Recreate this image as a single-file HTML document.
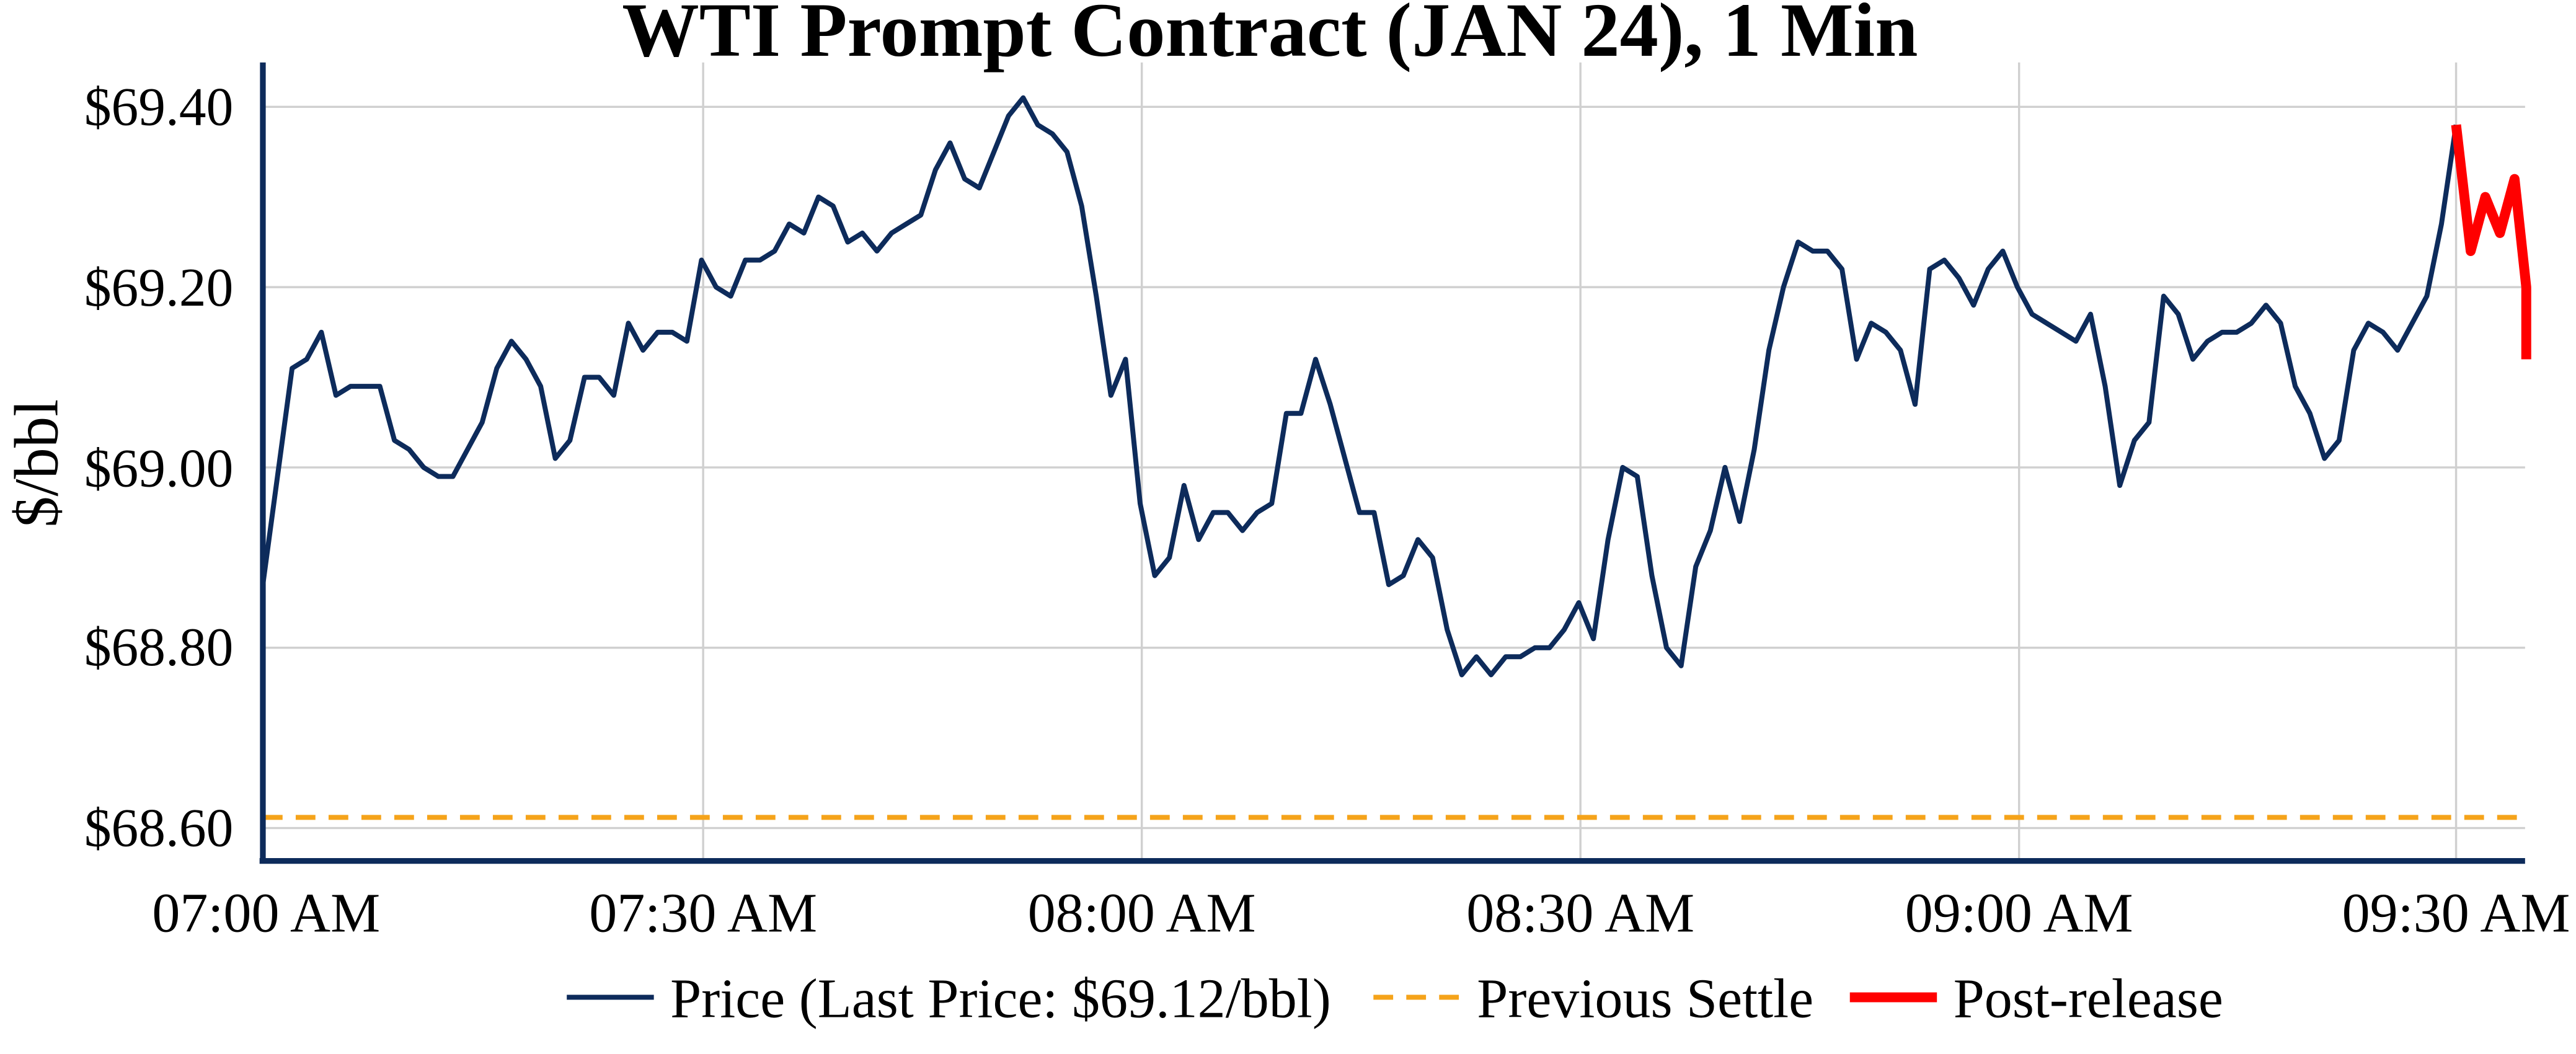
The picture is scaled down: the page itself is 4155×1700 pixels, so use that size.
<!DOCTYPE html>
<html><head><meta charset="utf-8"><style>
html,body{margin:0;padding:0;background:#fff;}
svg{display:block;}
text{font-family:"Liberation Serif",serif;fill:#000;}
</style></head><body>
<svg width="4155" height="1700" viewBox="0 0 1568 641.5" xmlns="http://www.w3.org/2000/svg">
<rect width="1568" height="641.5" fill="#fff"/>
<text x="773" y="34" text-anchor="middle" font-size="47" font-weight="bold">WTI Prompt Contract (JAN 24), 1 Min</text>
<g stroke="#d0d0d0" stroke-width="1.3">
<line x1="160" x2="1537" y1="65" y2="65"/>
<line x1="160" x2="1537" y1="174.75" y2="174.75"/>
<line x1="160" x2="1537" y1="284.5" y2="284.5"/>
<line x1="160" x2="1537" y1="394.25" y2="394.25"/>
<line x1="160" x2="1537" y1="504" y2="504"/>
<line x1="428" x2="428" y1="38" y2="524"/>
<line x1="695" x2="695" y1="38" y2="524"/>
<line x1="962" x2="962" y1="38" y2="524"/>
<line x1="1229" x2="1229" y1="38" y2="524"/>
<line x1="1495" x2="1495" y1="38" y2="524"/>
</g>
<line x1="160" x2="1537" y1="497.5" y2="497.5" stroke="#f5a31a" stroke-width="3" stroke-dasharray="12,8"/>
<g transform="translate(160,65) scale(8.9,5.4875)">
<polyline fill="none" stroke="#0d2b5b" stroke-width="8" vector-effect="non-scaling-stroke" stroke-linejoin="round" points="0,53 1,41 2,29 3,28 4,25 5,32 6,31 7,31 8,31 9,37 10,38 11,40 12,41 13,41 14,38 15,35 16,29 17,26 18,28 19,31 20,39 21,37 22,30 23,30 24,32 25,24 26,27 27,25 28,25 29,26 30,17 31,20 32,21 33,17 34,17 35,16 36,13 37,14 38,10 39,11 40,15 41,14 42,16 43,14 44,13 45,12 46,7 47,4 48,8 49,9 50,5 51,1 52,-1 53,2 54,3 55,5 56,11 57,21 58,32 59,28 60,44 61,52 62,50 63,42 64,48 65,45 66,45 67,47 68,45 69,44 70,34 71,34 72,28 73,33 74,39 75,45 76,45 77,53 78,52 79,48 80,50 81,58 82,63 83,61 84,63 85,61 86,61 87,60 88,60 89,58 90,55 91,59 92,48 93,40 94,41 95,52 96,60 97,62 98,51 99,47 100,40 101,46 102,38 103,27 104,20 105,15 106,16 107,16 108,18 109,28 110,24 111,25 112,27 113,33 114,18 115,17 116,19 117,22 118,18 119,16 120,20 121,23 122,24 123,25 124,26 125,23 126,31 127,42 128,37 129,35 130,21 131,23 132,28 133,26 134,25 135,25 136,24 137,22 138,24 139,31 140,34 141,39 142,37 143,27 144,24 145,25 146,27 147,24 148,21 149,13 150,2"/>
<polyline fill="none" stroke="#ff0000" stroke-width="16" vector-effect="non-scaling-stroke" stroke-linejoin="round" points="150,2 151,16 152,10 153,14 154,8 154.8,20 154.8,28"/>
</g>
<line x1="160" x2="160" y1="38" y2="525" stroke="#0d2b5b" stroke-width="3.5"/>
<line x1="158" x2="1537" y1="524" y2="524" stroke="#0d2b5b" stroke-width="3.5"/>
<g font-size="33" text-anchor="end">
<text x="142" y="76">$69.40</text>
<text x="142" y="186">$69.20</text>
<text x="142" y="296">$69.00</text>
<text x="142" y="405">$68.80</text>
<text x="142" y="515">$68.60</text>
</g>
<g font-size="34" text-anchor="middle">
<text x="162" y="567">07:00 AM</text>
<text x="428" y="567">07:30 AM</text>
<text x="695" y="567">08:00 AM</text>
<text x="962" y="567">08:30 AM</text>
<text x="1229" y="567">09:00 AM</text>
<text x="1495" y="567">09:30 AM</text>
</g>
<text transform="translate(35,282) rotate(-90)" font-size="38" text-anchor="middle">$/bbl</text>
<g font-size="34">
<line x1="345" x2="398" y1="607" y2="607" stroke="#0d2b5b" stroke-width="3"/>
<text x="408" y="619">Price (Last Price: $69.12/bbl)</text>
<line x1="836" x2="889" y1="607" y2="607" stroke="#f5a31a" stroke-width="3" stroke-dasharray="12,8"/>
<text x="899" y="619">Previous Settle</text>
<line x1="1126" x2="1179" y1="607" y2="607" stroke="#ff0000" stroke-width="6"/>
<text x="1189" y="619">Post-release</text>
</g>
</svg>
</body></html>
